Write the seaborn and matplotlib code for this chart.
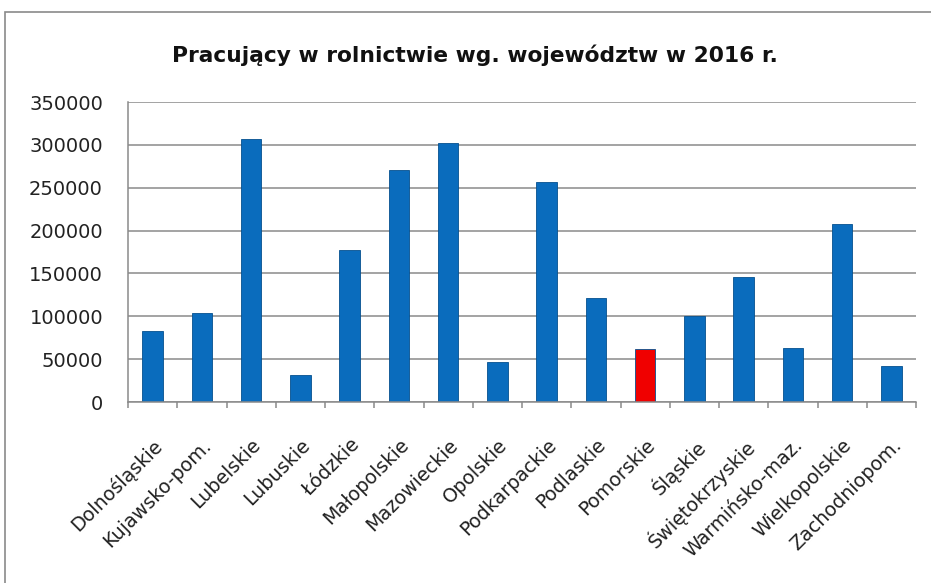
import matplotlib
matplotlib.use("Agg")
import matplotlib.pyplot as plt
import seaborn as sns
import pandas as pd
import numpy as np
from matplotlib.patches import Rectangle

categories = ["Dolnośląskie", "Kujawsko-pom.", "Lubelskie", "Lubuskie", "Łódzkie",
              "Małopolskie", "Mazowieckie", "Opolskie", "Podkarpackie", "Podlaskie",
              "Pomorskie", "Śląskie", "Świętokrzyskie", "Warmińsko-maz.",
              "Wielkopolskie", "Zachodniopom."]
values = [82800, 104300, 306500, 31100, 177300, 271000, 302500, 47000, 256300,
          121700, 62200, 100000, 145800, 63000, 208000, 42400]
highlight = "Pomorskie"
title = "Pracujący w rolnictwie wg. województw w 2016 r."
yticks = [0, 50000, 100000, 150000, 200000, 250000, 300000, 350000]

df = pd.DataFrame({"woj": categories, "val": values})
df["grp"] = np.where(df["woj"] == highlight, "hl", "base")

sns.set_style("white")
plt.rcParams['font.family'] = ['DejaVu Sans']

fig = plt.figure(figsize=(9.31, 5.83), dpi=100)
ax = fig.add_axes([128/931, 1-402/583, (916-128)/931, 300/583])

sns.barplot(data=df, x="woj", y="val", hue="grp", order=categories,
            palette={"base": "#0A6CBD", "hl": "#F00000"}, width=0.42,
            dodge=False, legend=False, saturation=1, ax=ax,
            edgecolor="#05508F", linewidth=0.6)

ax.set_ylim(0, 350000)
ax.set_xlim(-0.5, len(categories) - 0.5)
ax.set_yticks(yticks)
ax.set_yticklabels([str(v) for v in yticks], fontsize=14, color="#222222")
ax.set_xlabel("")
ax.set_ylabel("")
ax.yaxis.grid(True, color="#8a8a8a", linewidth=1.1)
ax.set_axisbelow(True)
for s in ["top", "right"]:
    ax.spines[s].set_visible(False)
ax.spines["left"].set_color("#8a8a8a")
ax.spines["bottom"].set_color("#8a8a8a")
ax.spines["left"].set_linewidth(1.1)
ax.spines["bottom"].set_linewidth(1.1)

ax.set_xticks(range(len(categories)))
ax.set_xticklabels(categories, rotation=45, ha="right", rotation_mode="anchor",
                   fontsize=13.8, color="#222222")
ax.set_xticks(np.arange(-0.5, len(categories)), minor=True)
ax.tick_params(axis="x", which="major", length=0, pad=24)
ax.tick_params(axis="x", which="minor", length=4, color="#8a8a8a", width=1.1, direction="out")
ax.tick_params(axis="y", length=6, color="#8a8a8a", width=1.1, direction="out", pad=12)
ax.tick_params(axis="x", which="minor", bottom=True)

fig.text(475/931, 1-55/583, title, ha="center", va="center", fontsize=15.7,
         fontweight="bold", color="#111111")

fig.patches.append(Rectangle((5/931, -0.05), 1.1, 1 - 12/583 + 0.05, transform=fig.transFigure,
                             fill=False, edgecolor="#8a8a8a", linewidth=1.2))

fig.savefig("out.png", dpi=100)
